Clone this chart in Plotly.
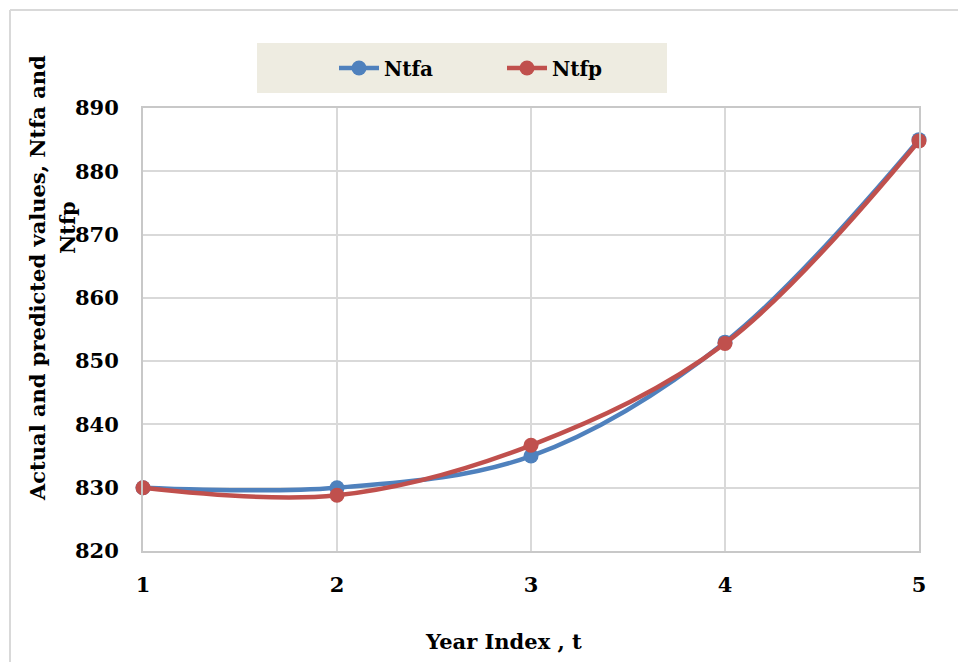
import plotly.graph_objects as go

years = [1, 2, 3, 4, 5]
ntfa = [830, 830, 835, 853, 885]
ntfp = [830, 828.8, 836.7, 852.8, 884.8]
y_ticks = [820, 830, 840, 850, 860, 870, 880, 890]

FONT = "DejaVu Serif"
BLUE = "#4f81bd"
RED = "#c0504d"

fig = go.Figure()
fig.add_trace(go.Scatter(x=years, y=ntfa, name="Ntfa", mode="lines+markers",
                         line=dict(color=BLUE, width=4.5, shape="spline", smoothing=1),
                         marker=dict(color=BLUE, size=15), cliponaxis=False))
fig.add_trace(go.Scatter(x=years, y=ntfp, name="Ntfp", mode="lines+markers",
                         line=dict(color=RED, width=4.5, shape="spline", smoothing=1),
                         marker=dict(color=RED, size=15), cliponaxis=False))

W, H = 958, 662
L, R, T, B = 143, 39, 108, 111
pw, ph = W - L - R, H - T - B

def px(x):
    return (x - L) / pw

def py(y):
    return (H - B - y) / ph

fig.update_layout(
    width=W, height=H,
    margin=dict(l=L, r=R, t=T, b=B),
    paper_bgcolor="white", plot_bgcolor="white",
    font=dict(family=FONT, size=21, color="black"),
    showlegend=True,
    legend=dict(orientation="h", x=px(334), y=py(68), xanchor="left", yanchor="middle",
                bgcolor="rgba(0,0,0,0)", font=dict(family=FONT, size=20, color="black", weight="bold"),
                itemwidth=40, entrywidth=113),
    xaxis=dict(range=[1, 5], tickvals=years, ticktext=[str(v) for v in years],
               showgrid=True, gridcolor="#d9d9d9", gridwidth=2,
               showline=True, linecolor="#c8c8c8", linewidth=2, mirror=True,
               zeroline=False, ticks="outside", ticklen=14, tickcolor="rgba(0,0,0,0)",
               tickfont=dict(family=FONT, size=21, weight="bold")),
    yaxis=dict(range=[820, 890], tickvals=y_ticks,
               showgrid=True, gridcolor="#d9d9d9", gridwidth=2,
               showline=True, linecolor="#c8c8c8", linewidth=2, mirror=True,
               zeroline=False, ticks="outside", ticklen=18, tickcolor="rgba(0,0,0,0)",
               tickfont=dict(family=FONT, size=21, weight="bold")),
    shapes=[
        dict(type="rect", xref="paper", yref="paper", x0=px(257), x1=px(667), y0=py(93), y1=py(43),
             fillcolor="#eeece1", line=dict(width=0), layer="below"),
        dict(type="line", xref="paper", yref="paper", x0=px(10), x1=px(10), y0=py(10), y1=py(700),
             line=dict(color="#d9d9d9", width=2)),
        dict(type="line", xref="paper", yref="paper", x0=px(10), x1=px(1000), y0=py(10), y1=py(10),
             line=dict(color="#d9d9d9", width=2)),
    ],
    annotations=[
        dict(text="<b>Year Index , t</b>", xref="paper", yref="paper", x=px(503), y=py(641),
             showarrow=False, font=dict(family=FONT, size=21), xanchor="center", yanchor="middle"),
        dict(text="<b>Actual and predicted values, Ntfa and</b>", xref="paper", yref="paper",
             x=px(37), y=py(278), textangle=-90, showarrow=False,
             font=dict(family=FONT, size=21), xanchor="center", yanchor="middle"),
        dict(text="<b>Ntfp</b>", xref="paper", yref="paper",
             x=px(67), y=py(228), textangle=-90, showarrow=False,
             font=dict(family=FONT, size=21), xanchor="center", yanchor="middle"),
    ],
)

fig.write_html("out.html")
